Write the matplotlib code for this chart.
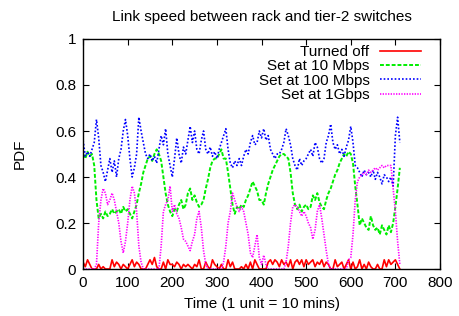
import numpy as np
import matplotlib
matplotlib.use("Agg")
import matplotlib.pyplot as plt

plt.rcParams['font.family'] = ['Liberation Sans', 'DejaVu Sans']

time = list(range(0, 715, 5))

turned_off = [
    0.03, 0.01, 0.04, 0.02, 0.0, 0.0, 0.0, 0.02, 0.0, 0.01,
    0.0, 0.0, 0.0, 0.04, 0.01, 0.03, 0.02, 0.0, 0.02, 0.01,
    0.0, 0.02, 0.04, 0.01, 0.03, 0.02, 0.0, 0.0, 0.0, 0.02,
    0.04, 0.02, 0.05, 0.01, 0.0, 0.0, 0.03, 0.0, 0.04, 0.02,
    0.02, 0.01, 0.03, 0.02, 0.0, 0.02, 0.01, 0.02, 0.01, 0.0,
    0.02, 0.01, 0.04, 0.0, 0.0, 0.03, 0.01, 0.0, 0.04, 0.02,
    0.01, 0.0, 0.02, 0.0, 0.0, 0.04, 0.01, 0.03, 0.0, 0.0,
    0.0, 0.01, 0.0, 0.02, 0.0, 0.03, 0.0, 0.04, 0.02, 0.0,
    0.0, 0.0, 0.0, 0.03, 0.04, 0.02, 0.04, 0.03, 0.01, 0.04,
    0.02, 0.03, 0.01, 0.04, 0.0, 0.03, 0.04, 0.02, 0.04, 0.01,
    0.04, 0.02, 0.03, 0.04, 0.01, 0.03, 0.02, 0.04, 0.01, 0.03,
    0.02, 0.0, 0.0, 0.04, 0.01, 0.02, 0.03, 0.0, 0.02, 0.04,
    0.0, 0.03, 0.0, 0.01, 0.04, 0.0, 0.02, 0.0, 0.03, 0.01,
    0.0, 0.0, 0.02, 0.0, 0.0, 0.04, 0.01, 0.04, 0.02, 0.03,
    0.04, 0.02, 0.0,
]

set_10mbps = [
    0.50, 0.48, 0.51, 0.49, 0.50, 0.45, 0.30, 0.22, 0.24, 0.22,
    0.25, 0.23, 0.24, 0.26, 0.24, 0.25, 0.26, 0.24, 0.27, 0.25,
    0.26, 0.24, 0.22, 0.25, 0.28, 0.33, 0.37, 0.42, 0.45, 0.48,
    0.49, 0.47, 0.50, 0.52, 0.50, 0.47, 0.40, 0.33, 0.28, 0.25,
    0.23, 0.26, 0.25, 0.28, 0.30, 0.26, 0.28, 0.33, 0.35, 0.30,
    0.32, 0.29, 0.27, 0.28, 0.30, 0.35, 0.39, 0.44, 0.47, 0.48,
    0.48, 0.50, 0.52, 0.48, 0.48, 0.42, 0.35, 0.28, 0.24, 0.27,
    0.26, 0.28, 0.27, 0.30, 0.32, 0.35, 0.38, 0.36, 0.34, 0.30,
    0.30, 0.28, 0.33, 0.37, 0.40, 0.43, 0.45, 0.47, 0.49, 0.50,
    0.50, 0.49, 0.48, 0.42, 0.33, 0.28, 0.26, 0.28, 0.25, 0.27,
    0.28, 0.26, 0.27, 0.32, 0.30, 0.33, 0.29, 0.27, 0.26, 0.30,
    0.33, 0.35, 0.38, 0.41, 0.43, 0.46, 0.48, 0.50, 0.49, 0.51,
    0.50, 0.46, 0.36, 0.28, 0.19, 0.22, 0.20, 0.18, 0.17, 0.23,
    0.19, 0.17, 0.18, 0.15, 0.19, 0.17, 0.15, 0.19, 0.16, 0.20,
    0.27, 0.35, 0.44,
]

set_100mbps = [
    0.56, 0.49, 0.51, 0.49, 0.52, 0.55, 0.65, 0.57, 0.45, 0.42,
    0.38, 0.43, 0.48, 0.42, 0.47, 0.40, 0.48, 0.52, 0.60, 0.65,
    0.58, 0.48, 0.40, 0.44, 0.50, 0.66, 0.60, 0.55, 0.50, 0.48,
    0.50, 0.47, 0.49, 0.46, 0.52, 0.58, 0.54, 0.61, 0.50, 0.45,
    0.40, 0.48, 0.57, 0.50, 0.46, 0.53, 0.50, 0.56, 0.62, 0.55,
    0.60, 0.52, 0.50, 0.56, 0.60, 0.52, 0.50, 0.53, 0.49, 0.51,
    0.48, 0.52, 0.55, 0.58, 0.61, 0.52, 0.46, 0.44, 0.47, 0.45,
    0.48, 0.45, 0.49, 0.52, 0.50, 0.55, 0.58, 0.54, 0.55, 0.60,
    0.57, 0.61, 0.56, 0.58, 0.52, 0.50, 0.48, 0.50, 0.50, 0.52,
    0.55, 0.61, 0.58, 0.54, 0.48, 0.45, 0.43, 0.48, 0.45, 0.47,
    0.48, 0.50, 0.52, 0.49, 0.55, 0.53, 0.48, 0.46, 0.48, 0.55,
    0.58, 0.63, 0.55, 0.52, 0.54, 0.50, 0.52, 0.49, 0.53, 0.56,
    0.62, 0.55, 0.45, 0.44, 0.42, 0.40, 0.43, 0.41, 0.42, 0.40,
    0.43, 0.39, 0.42, 0.40, 0.37, 0.41, 0.40, 0.38, 0.40, 0.36,
    0.58, 0.66, 0.55,
]

set_1gbps = [
    0.0, 0.0, 0.0, 0.0, 0.0, 0.0, 0.02, 0.20, 0.30, 0.35,
    0.33, 0.28, 0.30, 0.33, 0.30, 0.25, 0.20, 0.12, 0.07, 0.12,
    0.20, 0.30, 0.36, 0.33, 0.25, 0.10, 0.03, 0.0, 0.0, 0.0,
    0.0, 0.0, 0.0, 0.0, 0.0, 0.10, 0.25, 0.28, 0.30, 0.36,
    0.25, 0.28, 0.24, 0.22, 0.18, 0.13, 0.12, 0.10, 0.08, 0.12,
    0.15, 0.22, 0.25, 0.18, 0.08, 0.02, 0.0, 0.0, 0.0, 0.0,
    0.0, 0.0, 0.0, 0.03, 0.10, 0.20, 0.25, 0.33, 0.30, 0.27,
    0.25, 0.27, 0.25, 0.20, 0.15, 0.07, 0.05, 0.10, 0.15, 0.05,
    0.02, 0.06, 0.02, 0.0, 0.0, 0.0, 0.0, 0.0, 0.0, 0.0,
    0.0, 0.03, 0.10, 0.20, 0.27, 0.28, 0.27, 0.25, 0.23, 0.25,
    0.23, 0.20, 0.18, 0.13, 0.17, 0.25, 0.28, 0.22, 0.15, 0.08,
    0.02, 0.0, 0.0, 0.0, 0.0, 0.0, 0.0, 0.0, 0.0, 0.04,
    0.05, 0.15, 0.30, 0.38, 0.40, 0.41, 0.42, 0.41, 0.43, 0.42,
    0.43, 0.44, 0.43, 0.44, 0.45, 0.44, 0.45, 0.45, 0.45, 0.35,
    0.25, 0.12, 0.02,
]

labels = ["Turned off", "Set at 10 Mbps", "Set at 100 Mbps", "Set at 1Gbps"]

fig = plt.figure(figsize=(4.59, 3.16), dpi=100)
ax = fig.add_axes([0.181, 0.1487, 0.7776, 0.7279])

ax.plot(time, turned_off, color='#ff0000', lw=1.2, label=labels[0])
ax.plot(time, set_10mbps, color='#00ee00', lw=1.4, dashes=(2, 1), label=labels[1])
ax.plot(time, set_100mbps, color='#0000ff', lw=1.2, dashes=(1, 1.2), label=labels[2])
ax.plot(time, set_1gbps, color='#ff00ff', lw=1.2, dashes=(0.8, 0.8), label=labels[3])

ax.set_xlim(0, 800)
ax.set_ylim(0, 1)
ax.set_xticks(range(0, 801, 100))
ax.set_yticks([0, 0.2, 0.4, 0.6, 0.8, 1])
ax.set_yticklabels(["0", "0.2", "0.4", "0.6", "0.8", "1"])
ax.tick_params(direction='in', top=True, right=True, length=4, width=0.8,
               labelsize=11, pad=5)
for s in ax.spines.values():
    s.set_linewidth(1.0)

ax.set_title("Link speed between rack and tier-2 switches", fontsize=11, pad=13)
ax.set_xlabel("Time (1 unit = 10 mins)", fontsize=11, labelpad=5)
ax.set_ylabel("PDF", fontsize=11, labelpad=20)

ax.legend(loc='upper right', frameon=False, markerfirst=False, fontsize=11,
          handlelength=2.7, labelspacing=0.02, borderaxespad=0.2,
          handletextpad=0.7, borderpad=0.2,
          bbox_to_anchor=(0.965, 1.0))

fig.savefig("out.png", dpi=100)
